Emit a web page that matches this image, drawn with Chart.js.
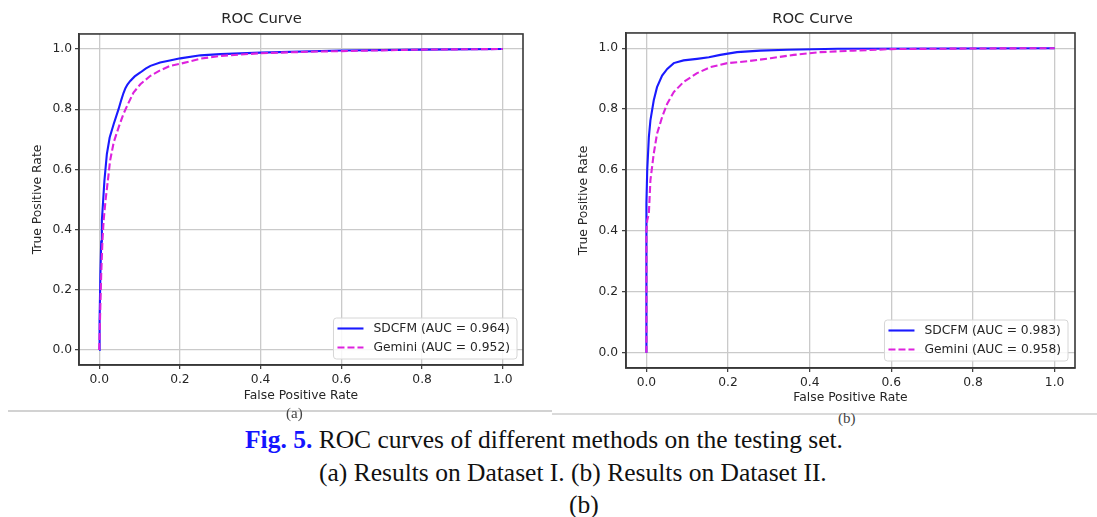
<!DOCTYPE html>
<html>
<head>
<meta charset="utf-8">
<title>ROC curves of different methods on the testing set</title>
<script src="https://cdn.jsdelivr.net/npm/chart.js@4/dist/chart.umd.min.js"></script>
<style>
  body { margin: 0; background: #ffffff; }
  #page { position: relative; width: 1097px; height: 517px; overflow: hidden; background: #ffffff; }
  .box { position: absolute; top: 0; }
  .rule { position: absolute; }
  .sub { position: absolute; font-family: "Liberation Serif", "Times New Roman", serif; font-size: 15px; color: #444; line-height: 18px; white-space: nowrap; }
  .cap { position: absolute; font-family: "Liberation Serif", "Times New Roman", serif; font-size: 25.5px; color: #111; line-height: 30px; white-space: nowrap; }
  .cap b { color: #1414ff; }
</style>
</head>
<body>
<div id="page">
  <div class="box" style="left:0px"><canvas id="rocA" width="550" height="405"></canvas></div>
  <div class="box" style="left:550px"><canvas id="rocB" width="547" height="405"></canvas></div>

  <!-- thin grey rules under each panel, as in the paper screenshot -->
  <div class="rule" style="left:8px; top:410px; width:544px; height:1.5px; background:#d2d2d2"></div>
  <div class="rule" style="left:552px; top:413px; width:545px; height:2px; background:#dadada"></div>
  <div class="sub" style="left:286px; top:404px">(a)</div>
  <div class="sub" style="left:838px; top:409px">(b)</div>

  <div class="cap" style="left:245px; top:425px"><b>Fig. 5.</b> ROC curves of different methods on the testing set.</div>
  <div class="cap" style="left:319px; top:458px">(a) Results on Dataset I. (b) Results on Dataset II.</div>
  <div class="cap" style="left:569px; top:490px">(b)</div>
</div>

<script>
// ---- Data ----
// Dataset I (panel a)
const fprA_sdcfm = [0, 0.001, 0.003, 0.005, 0.0067, 0.010, 0.013, 0.019, 0.026, 0.036, 0.048, 0.055, 0.060, 0.065, 0.070, 0.077, 0.088, 0.102, 0.115, 0.127, 0.151, 0.175, 0.201, 0.251, 0.30, 0.40, 0.60, 0.80, 1.0];
const tprA_sdcfm = [0, 0.10, 0.25, 0.36, 0.43, 0.50, 0.563, 0.651, 0.706, 0.751, 0.800, 0.832, 0.853, 0.870, 0.882, 0.894, 0.909, 0.922, 0.935, 0.944, 0.955, 0.962, 0.969, 0.979, 0.983, 0.988, 0.995, 0.998, 1.0];
const fprA_gemini = [0, 0.002, 0.005, 0.008, 0.011, 0.016, 0.0215, 0.027, 0.036, 0.048, 0.060, 0.073, 0.085, 0.102, 0.127, 0.151, 0.176, 0.201, 0.251, 0.300, 0.40, 0.524, 0.60, 0.80, 1.0];
const tprA_gemini = [0, 0.10, 0.25, 0.36, 0.43, 0.50, 0.563, 0.629, 0.690, 0.739, 0.784, 0.822, 0.855, 0.883, 0.911, 0.929, 0.944, 0.951, 0.968, 0.977, 0.986, 0.991, 0.993, 0.998, 1.0];

// Dataset II (panel b)
const fprB_sdcfm = [0, 0, 0.002, 0.006, 0.0098, 0.018, 0.026, 0.0385, 0.051, 0.067, 0.091, 0.124, 0.153, 0.181, 0.222, 0.279, 0.345, 0.468, 1.0];
const tprB_sdcfm = [0, 0.49, 0.60, 0.708, 0.763, 0.829, 0.872, 0.910, 0.932, 0.951, 0.960, 0.965, 0.970, 0.978, 0.987, 0.992, 0.995, 0.998, 1.0];
const fprB_gemini = [0, 0, 0.002, 0.006, 0.0098, 0.018, 0.026, 0.0385, 0.051, 0.067, 0.091, 0.124, 0.157, 0.198, 0.247, 0.304, 0.361, 0.426, 0.507, 0.60, 0.80, 1.0];
const tprB_gemini = [0, 0.40, 0.435, 0.457, 0.566, 0.654, 0.719, 0.774, 0.818, 0.856, 0.889, 0.918, 0.938, 0.951, 0.957, 0.967, 0.978, 0.987, 0.992, 0.997, 0.999, 1.0];

// Legend labels (AUC values printed in the figure)
const labelsA = ['SDCFM (AUC = 0.964)', 'Gemini (AUC = 0.952)'];
const labelsB = ['SDCFM (AUC = 0.983)', 'Gemini (AUC = 0.958)'];

// Axis tick values and texts
const tickValues = [0, 0.2, 0.4, 0.6, 0.8, 1.0];
const chartTitle = 'ROC Curve';
const xTitle = 'False Positive Rate';
const yTitle = 'True Positive Rate';

// ---- Helpers ----
const FONT = 'DejaVu Sans';
const INK = '#262626';

// zip fpr/tpr arrays into {x, y} points for Chart.js
function toPoints(fpr, tpr) {
    return fpr.map((x, i) => ({ x: x, y: tpr[i] }));
}

// Draw the full matplotlib-like frame around the plot area
const framePlugin = {
    id: 'frame',
    afterDatasetsDraw(chart) {
        const a = chart.chartArea;
        const ctx = chart.ctx;
        ctx.save();
        ctx.strokeStyle = '#383838';
        ctx.lineWidth = 1.6;
        ctx.strokeRect(a.left, a.top, a.right - a.left, a.bottom - a.top);
        ctx.restore();
    }
};

// Legend box drawn inside the lower-right corner of the plot area
const rocLegendPlugin = {
    id: 'rocLegend',
    afterDraw(chart, args, opts) {
        const a = chart.chartArea;
        const ctx = chart.ctx;
        const sets = chart.data.datasets.slice().sort((p, q) => p.legendRank - q.legendRank);
        ctx.save();
        ctx.font = '12.3px "' + FONT + '"';
        let textW = 0;
        sets.forEach(ds => { textW = Math.max(textW, ctx.measureText(ds.label).width); });
        const w = 4 + 26 + 10 + textW + 7;
        const h = 41;
        const x0 = a.right - opts.inset - w;
        const y0 = a.bottom - opts.inset - h;
        // box
        ctx.beginPath();
        ctx.roundRect(x0, y0, w, h, 3);
        ctx.fillStyle = 'rgba(255,255,255,0.85)';
        ctx.fill();
        ctx.strokeStyle = '#d6d6d6';
        ctx.lineWidth = 1;
        ctx.stroke();
        // rows
        sets.forEach((ds, i) => {
            const y = y0 + 10.5 + i * 19;
            ctx.beginPath();
            ctx.setLineDash(ds.borderDash || []);
            ctx.strokeStyle = ds.borderColor;
            ctx.lineWidth = ds.borderWidth;
            ctx.moveTo(x0 + 4, y);
            ctx.lineTo(x0 + 30, y);
            ctx.stroke();
            ctx.setLineDash([]);
            ctx.fillStyle = INK;
            ctx.textBaseline = 'middle';
            ctx.textAlign = 'left';
            ctx.fillText(ds.label, x0 + 40, y + 0.5);
        });
        ctx.restore();
    }
};

// Build one ROC panel; geometry numbers keep the plot box where the picture has it
function makeRoc(canvasId, sdcfm, gemini, labels, geo) {
    const ctx = document.getElementById(canvasId).getContext('2d');
    return new Chart(ctx, {
        type: 'scatter',
        data: {
            datasets: [
                {
                    label: labels[0],
                    data: sdcfm,
                    showLine: true,
                    borderColor: '#1a1aff',
                    borderWidth: 2.1,
                    pointRadius: 0,
                    tension: 0,
                    order: 1,
                    legendRank: 0
                },
                {
                    label: labels[1],
                    data: gemini,
                    showLine: true,
                    borderColor: '#dd22dd',
                    borderWidth: 2.1,
                    borderDash: [7, 3],
                    pointRadius: 0,
                    tension: 0,
                    order: 0,
                    legendRank: 1
                }
            ]
        },
        options: {
            responsive: false,
            animation: false,
            layout: { padding: { left: 0, right: geo.padRight, top: 0, bottom: 0 } },
            plugins: {
                legend: { display: false },
                tooltip: { enabled: false },
                title: {
                    display: true,
                    text: chartTitle,
                    color: INK,
                    font: { family: FONT, size: 14.8, weight: 'normal' },
                    padding: { top: 10.5, bottom: geo.titleBottom }
                },
                rocLegend: { inset: geo.legendInset }
            },
            scales: {
                x: {
                    type: 'linear',
                    min: -0.05,
                    max: 1.05,
                    afterFit: scale => { scale.height = geo.xHeight; },
                    afterBuildTicks: scale => { scale.ticks = tickValues.map(v => ({ value: v })); },
                    ticks: {
                        callback: v => v.toFixed(1),
                        color: INK,
                        font: { family: FONT, size: 12.3 },
                        padding: 3,
                        maxRotation: 0
                    },
                    grid: { color: '#cacaca', lineWidth: 1.3, tickLength: 4, tickColor: '#383838', tickWidth: 1.2 },
                    border: { display: true, color: '#383838', width: 1.6 },
                    title: {
                        display: true,
                        text: xTitle,
                        color: INK,
                        font: { family: FONT, size: 12.3 },
                        padding: { top: 0, bottom: geo.xTitlePad }
                    }
                },
                y: {
                    type: 'linear',
                    min: -0.05,
                    max: 1.05,
                    afterFit: scale => { scale.width = geo.yWidth; },
                    afterBuildTicks: scale => { scale.ticks = tickValues.map(v => ({ value: v })); },
                    ticks: {
                        callback: v => v.toFixed(1),
                        color: INK,
                        font: { family: FONT, size: 12.3 },
                        padding: geo.yTickPad
                    },
                    grid: { color: '#cacaca', lineWidth: 1.3, tickLength: 4, tickColor: '#383838', tickWidth: 1.2 },
                    border: { display: true, color: '#383838', width: 1.6 },
                    title: {
                        display: true,
                        text: yTitle,
                        color: INK,
                        font: { family: FONT, size: 12.3 },
                        padding: { top: geo.yTitlePad, bottom: 0 }
                    }
                }
            }
        },
        plugins: [framePlugin, rocLegendPlugin]
    });
}

// Panel (a): Dataset I
makeRoc('rocA', toPoints(fprA_sdcfm, tprA_sdcfm), toPoints(fprA_gemini, tprA_gemini), labelsA,
    { padRight: 27, titleBottom: 5.7, xHeight: 40, xTitlePad: 1.6, yWidth: 79, yTitlePad: 30.6, yTickPad: 3, legendInset: 6 });

// Panel (b): Dataset II
makeRoc('rocB', toPoints(fprB_sdcfm, tprB_sdcfm), toPoints(fprB_gemini, tprB_gemini), labelsB,
    { padRight: 22, titleBottom: 4.7, xHeight: 37, xTitlePad: 0, yWidth: 76, yTitlePad: 26.6, yTickPad: 4, legendInset: 7 });
</script>
</body>
</html>
